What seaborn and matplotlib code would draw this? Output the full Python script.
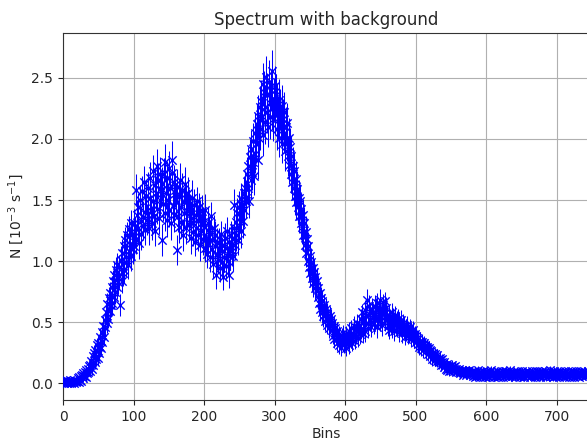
import numpy as np
import pandas as pd
import matplotlib
matplotlib.use('Agg')
import matplotlib.pyplot as plt
import seaborn as sns

# counts per bin, in units of 0.01 x 10^-3 s^-1
counts_raw = [
    1, 0, 2, 1, 3, 0, 1, 2, 0, 1, 3, 1, 0, 2, 1, 3, 0, 2, 1, 2,
    2, 4, 1, 5, 3, 6, 2, 7, 4, 8, 6, 9, 5, 11, 8, 12, 9, 14, 10, 15,
    18, 12, 22, 15, 25, 17, 27, 20, 31, 21, 33, 25, 30, 38, 29, 42, 34, 47, 38, 52,
    46, 58, 49, 65, 53, 70, 59, 74, 64, 79, 66, 84, 71, 89, 75, 93, 79, 97, 83, 88,
    95, 64, 101, 84, 107, 90, 112, 93, 117, 99, 103, 121, 97, 126, 108, 114, 131, 104, 122, 110,
    112, 131, 124, 158, 118, 138, 127, 144, 115, 150, 133, 122, 157, 136, 129, 165, 140, 126, 153, 134,
    138, 160, 127, 152, 168, 141, 131, 174, 149, 137, 162, 125, 156, 178, 143, 166, 135, 171, 150, 158,
    117, 163, 147, 171, 139, 181, 156, 134, 168, 150, 176, 142, 160, 131, 172, 183, 145, 165, 138, 158,
    150, 109, 161, 137, 153, 128, 166, 144, 132, 158, 121, 148, 139, 163, 127, 151, 141, 156, 130, 146,
    140, 119, 135, 152, 124, 131, 146, 116, 138, 127, 149, 121, 133, 144, 113, 137, 125, 141, 118, 132,
    128, 111, 142, 119, 106, 131, 115, 125, 103, 122, 137, 110, 117, 98, 127, 112, 121, 89, 116, 105,
    101, 115, 94, 110, 122, 99, 108, 87, 113, 103, 119, 96, 111, 125, 100, 89, 116, 104, 121, 108,
    118, 104, 127, 146, 113, 132, 121, 139, 117, 144, 128, 136, 151, 125, 147, 133, 156, 142, 160, 149,
    152, 171, 160, 178, 149, 185, 166, 192, 173, 181, 198, 170, 205, 188, 196, 212, 183, 219, 201, 226,
    208, 231, 219, 245, 203, 238, 226, 214, 251, 222, 236, 210, 247, 229, 218, 240, 225, 256, 216, 233,
    243, 221, 236, 208, 229, 217, 232, 201, 224, 211, 227, 196, 216, 205, 222, 190, 210, 198, 213, 186,
    201, 179, 193, 171, 186, 165, 178, 160, 174, 153, 167, 148, 159, 144, 152, 137, 149, 131, 143, 128,
    138, 121, 131, 113, 124, 107, 118, 100, 112, 95, 104, 90, 99, 86, 94, 82, 91, 78, 87, 80,
    84, 71, 78, 66, 74, 61, 70, 58, 67, 55, 64, 57, 51, 61, 48, 58, 53, 45, 55, 50,
    53, 44, 49, 39, 47, 36, 45, 41, 33, 43, 38, 31, 40, 35, 29, 38, 34, 41, 32, 37,
    33, 40, 29, 37, 35, 43, 31, 39, 36, 45, 33, 41, 38, 47, 35, 44, 39, 49, 37, 43,
    47, 40, 53, 44, 58, 41, 51, 47, 60, 43, 56, 68, 49, 45, 63, 52, 58, 46, 61, 55,
    57, 49, 63, 52, 61, 46, 66, 55, 59, 51, 68, 54, 60, 48, 64, 57, 67, 52, 62, 56,
    53, 47, 56, 44, 52, 49, 58, 45, 54, 50, 43, 55, 48, 51, 46, 53, 42, 50, 47, 52,
    46, 41, 49, 43, 47, 38, 45, 42, 48, 39, 44, 40, 46, 37, 43, 41, 38, 44, 36, 40,
    39, 34, 37, 32, 36, 30, 35, 33, 29, 34, 31, 27, 33, 29, 31, 26, 30, 28, 24, 29,
    27, 22, 26, 24, 20, 25, 22, 19, 24, 21, 18, 23, 20, 17, 21, 19, 15, 20, 17, 16,
    17, 13, 15, 12, 16, 11, 14, 13, 10, 14, 12, 15, 11, 13, 10, 12, 14, 9, 12, 11,
    11, 9, 12, 8, 10, 9, 11, 7, 10, 8, 11, 9, 7, 10, 8, 9, 11, 7, 9, 8,
    9, 6, 8, 10, 5, 7, 9, 6, 8, 11, 7, 5, 8, 9, 6, 10, 7, 8, 5, 9,
    7, 10, 6, 8, 5, 9, 7, 11, 6, 8, 7, 5, 9, 8, 6, 10, 7, 5, 8, 9,
    6, 8, 10, 7, 5, 9, 8, 6, 10, 7, 9, 5, 8, 6, 11, 7, 8, 6, 9, 7,
    8, 5, 9, 7, 10, 6, 8, 7, 5, 9, 6, 10, 8, 7, 5, 9, 7, 8, 10, 6,
    7, 9, 5, 8, 6, 10, 7, 9, 6, 8, 5, 7, 10, 8, 6, 9, 7, 5, 8, 10,
    9, 6, 8, 7, 10, 5, 8, 9, 6, 7, 11, 8, 6, 9, 7, 5, 8, 10, 6, 7,
    6, 8, 9, 5, 7, 10, 8, 6, 9, 7, 8, 5, 10, 7, 9, 6, 8, 7, 5, 9,
    8, 10, 6, 7, 9, 5, 8, 7, 10, 6, 8, 9, 5, 7, 8, 10, 6, 9, 7, 8,
    9, 6, 8, 7, 10, 8,
]

# 1-sigma errors per bin, same units
errors_raw = [
    1, 2, 1, 1, 2, 1, 1, 2, 1, 2, 1, 1, 2, 1, 1, 2, 1, 2, 1, 2,
    2, 1, 2, 2, 2, 3, 2, 3, 3, 3, 3, 3, 4, 4, 3, 4, 4, 4, 4, 4,
    5, 5, 5, 5, 6, 5, 6, 6, 6, 6, 6, 7, 6, 7, 7, 7, 7, 8, 7, 8,
    8, 8, 8, 9, 8, 9, 9, 9, 9, 9, 10, 9, 10, 10, 10, 10, 10, 10, 10, 10,
    10, 9, 11, 10, 11, 10, 11, 11, 11, 11, 11, 11, 12, 11, 11, 12, 11, 12, 12, 12,
    12, 12, 12, 13, 12, 12, 13, 12, 13, 12, 12, 13, 13, 13, 12, 13, 13, 13, 13, 13,
    13, 13, 14, 13, 13, 13, 14, 13, 14, 13, 14, 13, 14, 14, 13, 14, 13, 14, 13, 14,
    13, 14, 14, 13, 14, 15, 13, 14, 14, 14, 14, 14, 13, 14, 14, 15, 13, 14, 14, 14,
    14, 12, 14, 13, 14, 13, 14, 13, 13, 14, 13, 13, 13, 14, 13, 13, 14, 13, 13, 13,
    13, 13, 13, 14, 12, 13, 13, 12, 13, 13, 12, 13, 13, 12, 13, 13, 12, 13, 13, 12,
    12, 12, 13, 12, 12, 13, 12, 12, 12, 12, 11, 12, 12, 12, 11, 12, 12, 12, 11, 12,
    11, 12, 11, 12, 11, 11, 12, 11, 11, 12, 12, 11, 12, 11, 12, 11, 12, 11, 12, 12,
    12, 12, 12, 13, 12, 13, 13, 13, 12, 13, 13, 13, 13, 14, 13, 14, 13, 14, 14, 14,
    14, 14, 14, 15, 14, 15, 15, 15, 15, 16, 15, 16, 16, 16, 16, 16, 16, 17, 16, 17,
    17, 17, 16, 17, 17, 18, 17, 18, 17, 17, 18, 17, 18, 17, 18, 17, 18, 17, 18, 17,
    17, 18, 17, 17, 17, 17, 17, 16, 17, 16, 17, 16, 17, 16, 16, 16, 16, 16, 16, 16,
    16, 16, 16, 15, 16, 15, 15, 15, 15, 15, 15, 14, 15, 14, 14, 14, 14, 14, 13, 14,
    13, 13, 13, 12, 13, 12, 12, 12, 12, 12, 12, 11, 11, 11, 11, 11, 11, 10, 11, 10,
    10, 10, 10, 10, 9, 10, 9, 9, 9, 9, 9, 9, 8, 9, 8, 8, 8, 8, 8, 8,
    8, 8, 8, 7, 8, 7, 7, 7, 7, 7, 7, 7, 7, 6, 7, 7, 6, 7, 7, 7,
    7, 7, 7, 6, 7, 7, 7, 7, 7, 7, 7, 8, 7, 8, 7, 8, 7, 8, 7, 8,
    8, 8, 8, 8, 7, 8, 8, 8, 8, 9, 8, 9, 8, 8, 9, 9, 8, 8, 9, 8,
    8, 9, 9, 8, 9, 9, 8, 9, 9, 8, 9, 9, 8, 9, 9, 9, 8, 9, 9, 8,
    9, 8, 8, 8, 8, 8, 8, 8, 8, 8, 8, 8, 8, 8, 8, 8, 8, 8, 8, 8,
    8, 8, 8, 7, 8, 7, 8, 7, 7, 7, 7, 7, 7, 7, 7, 7, 7, 7, 7, 7,
    7, 7, 7, 7, 7, 7, 7, 6, 7, 6, 6, 6, 6, 6, 6, 6, 6, 6, 6, 6,
    6, 6, 6, 5, 6, 5, 5, 5, 5, 5, 5, 5, 5, 5, 5, 5, 5, 4, 5, 4,
    4, 4, 4, 4, 4, 4, 4, 4, 4, 4, 4, 4, 4, 3, 4, 4, 4, 3, 4, 4,
    3, 4, 3, 3, 3, 4, 3, 3, 3, 3, 3, 3, 3, 3, 3, 3, 3, 3, 3, 3,
    3, 3, 3, 2, 3, 3, 3, 3, 2, 3, 3, 3, 3, 3, 2, 3, 3, 3, 3, 2,
    3, 3, 3, 2, 3, 3, 3, 3, 2, 3, 3, 3, 2, 3, 3, 3, 3, 2, 3, 3,
    3, 2, 3, 3, 3, 3, 2, 3, 3, 3, 3, 2, 3, 3, 3, 2, 3, 3, 3, 3,
    2, 3, 3, 3, 3, 2, 3, 3, 3, 3, 2, 3, 3, 3, 2, 3, 3, 3, 2, 3,
    3, 3, 2, 3, 3, 3, 3, 2, 3, 3, 3, 3, 3, 2, 3, 3, 3, 3, 2, 3,
    3, 3, 3, 2, 3, 3, 2, 3, 3, 3, 3, 2, 3, 3, 3, 3, 2, 3, 3, 3,
    3, 2, 3, 3, 3, 3, 2, 3, 3, 3, 3, 2, 3, 3, 3, 3, 2, 3, 3, 3,
    3, 3, 2, 3, 3, 3, 3, 2, 3, 3, 3, 3, 2, 3, 3, 3, 3, 2, 3, 3,
    3, 3, 2, 3, 3, 3,
]

title = 'Spectrum with background'
x_label = 'Bins'
y_label = r'N [$10^{-3}$ s$^{-1}$]'


def main():
    sns.set_style('ticks', {
        'axes.grid': True,
        'grid.color': '#b0b0b0',
        'axes.edgecolor': '#333333',
    })
    plt.rcParams['font.family'] = ['DejaVu Sans']
    plt.rcParams['grid.linewidth'] = 0.8

    n = min(len(counts_raw), len(errors_raw))
    df = pd.DataFrame({
        'bin': np.arange(n),
        'rate': np.array(counts_raw[:n]) / 100.0,
        'err': np.array(errors_raw[:n]) / 100.0,
    })

    fig = plt.figure(figsize=(5.87, 4.41), dpi=100)
    ax = fig.add_axes([63 / 587, 41 / 441, 526 / 587, 367 / 441])

    ax.errorbar(df['bin'], df['rate'], yerr=df['err'], fmt='none',
                ecolor='blue', elinewidth=0.75, zorder=2)
    sns.scatterplot(data=df, x='bin', y='rate', marker='x', color='blue',
                    s=36, linewidth=1, ax=ax, zorder=3)

    ax.set_xlim(0, 746)
    ax.set_ylim(-0.137, 2.867)
    ax.set_xticks([0, 100, 200, 300, 400, 500, 600, 700])
    ax.set_yticks([0.0, 0.5, 1.0, 1.5, 2.0, 2.5])
    ax.set_title(title, fontsize=12)
    ax.set_xlabel(x_label, fontsize=10, labelpad=2)
    ax.set_ylabel(y_label, fontsize=10)
    ax.tick_params(labelsize=10, length=3.5, width=0.8)
    ax.set_axisbelow(True)

    fig.savefig('out.png', dpi=100)
    plt.close(fig)


if __name__ == '__main__':
    main()
